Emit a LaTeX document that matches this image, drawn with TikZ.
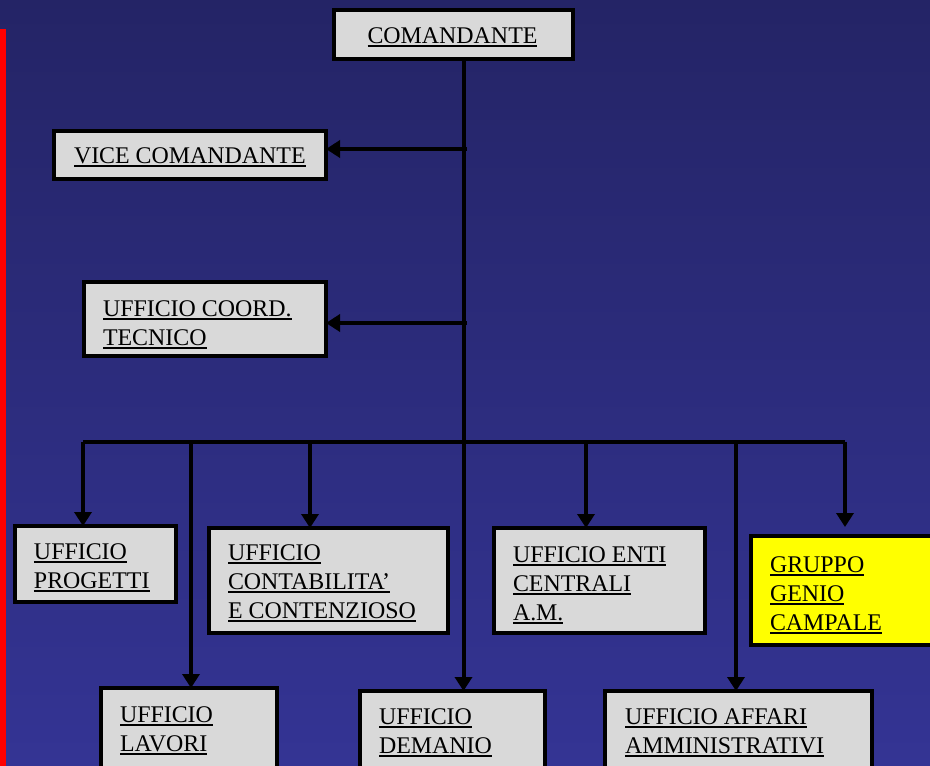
\documentclass[tikz,border=0pt]{standalone}
\usepackage{fontspec}
\setmainfont{Liberation Serif}
\usetikzlibrary{arrows.meta}
\newcommand\ulx[1]{\setbox0=\hbox{#1}\rlap{\rule[-4pt]{\wd0}{1.8pt}}\box0}
\newcommand\lns[1]{\vtop{\baselineskip=29pt\lineskiplimit=-20pt\halign{##\hfil\cr#1\crcr}}}
\definecolor{bgtop}{RGB}{36,36,102}
\definecolor{bgbot}{RGB}{52,52,148}
\definecolor{boxgray}{RGB}{217,217,217}
\definecolor{boxyel}{RGB}{255,255,0}
\begin{document}
\begin{tikzpicture}[x=1pt,y=-1pt,
  box/.style={draw=black,line width=4pt,fill=boxgray,inner sep=0pt,outer sep=0pt,anchor=north west},
  txt/.style={inner sep=0pt,outer sep=0pt,font=\fontsize{23.9}{29}\selectfont,text=black,anchor=base west},
  arr/.style={draw=black,line width=4pt,-{Triangle[width=17pt,length=14pt]}},
  ln/.style={draw=black,line width=4pt}]
\useasboundingbox (0,0) rectangle (930,766);
\clip (0,0) rectangle (930,766);
\shade[top color=bgtop,bottom color=bgbot] (0,0) rectangle (930,766);
\fill[red] (0,29) rectangle (5.5,766);
% boxes
\node[box,minimum width=239pt,minimum height=49pt] (com) at (334,10) {};
\node[box,minimum width=272pt,minimum height=48pt] (vice) at (54,131) {};
\node[box,minimum width=242pt,minimum height=74pt] (coord) at (84,282) {};
\node[box,minimum width=161pt,minimum height=76pt] (prog) at (15,526) {};
\node[box,minimum width=239pt,minimum height=105pt] (cont) at (209,528) {};
\node[box,minimum width=211pt,minimum height=105pt] (enti) at (494,528) {};
\node[box,fill=boxyel,minimum width=200pt,minimum height=109pt] (grp) at (751,536) {};
\node[box,minimum width=176pt,minimum height=120pt] (lav) at (101,688) {};
\node[box,minimum width=185pt,minimum height=120pt] (dem) at (360,691) {};
\node[box,minimum width=267pt,minimum height=120pt] (aff) at (605,691) {};
% texts
\node[txt,anchor=base] (comT) at (452.5,43) {\ulx{COMANDANTE}};
\node[txt] (viceT) at (74,163) {\ulx{VICE COMANDANTE}};
\node[txt] (coordT) at (103,316) {\lns{\ulx{UFFICIO COORD.}\cr\ulx{TECNICO}}};
\node[txt] (progT) at (34,559) {\lns{\ulx{UFFICIO}\cr\ulx{PROGETTI}}};
\node[txt] (contT) at (228,560) {\lns{\ulx{UFFICIO}\cr\ulx{CONTABILITA’}\cr\ulx{E CONTENZIOSO}}};
\node[txt] (entiT) at (513,562) {\lns{\ulx{UFFICIO ENTI}\cr\ulx{CENTRALI}\cr\ulx{A.M.}}};
\node[txt] (grpT) at (770,572) {\lns{\ulx{GRUPPO}\cr\ulx{GENIO}\cr\ulx{CAMPALE}}};
\node[txt] (lavT) at (120,722) {\lns{\ulx{UFFICIO}\cr\ulx{LAVORI}}};
\node[txt] (demT) at (379,724) {\lns{\ulx{UFFICIO}\cr\ulx{DEMANIO}}};
\node[txt] (affT) at (625,724) {\lns{\ulx{UFFICIO AFFARI}\cr\ulx{AMMINISTRATIVI}}};
% connector points
\coordinate (t0) at (463.5,61);
\coordinate (h1) at (467,149);
\coordinate (h2) at (467,323);
\coordinate (bL) at (83,442);
\coordinate (bR) at (845,442);
\coordinate (b2) at (191,442);
\coordinate (b3) at (310,442);
\coordinate (b4) at (586,442);
\coordinate (b5) at (736,442);
\coordinate (gtip) at (845,527);
% connectors
\draw[arr] (t0) -- (t0 |- dem.north);
\draw[arr] (h1) -- (vice.east |- h1);
\draw[arr] (h2) -- (coord.east |- h2);
\draw[ln] (bL) -- (bR);
\draw[arr] (bL) -- (bL |- prog.north);
\draw[arr] (b2) -- (b2 |- lav.north);
\draw[arr] (b3) -- (b3 |- cont.north);
\draw[arr] (b4) -- (b4 |- enti.north);
\draw[arr] (b5) -- (b5 |- aff.north);
\draw[arr] (bR) -- (gtip);
\end{tikzpicture}
\end{document}
